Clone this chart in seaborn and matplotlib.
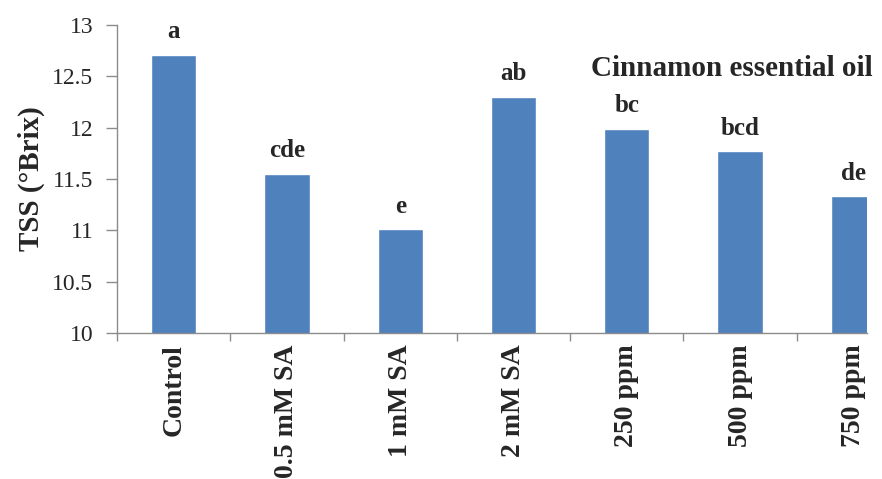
import matplotlib
matplotlib.use("Agg")
import matplotlib.pyplot as plt
import seaborn as sns
from matplotlib.ticker import FixedLocator

categories = ["Control", "0.5 mM SA", "1 mM SA", "2 mM SA", "250 ppm", "500 ppm", "750 ppm"]
tss_values = [12.71, 11.55, 11.01, 12.30, 11.99, 11.77, 11.33]
letters = ["a", "cde", "e", "ab", "bc", "bcd", "de"]
y_ticks = [10, 10.5, 11, 11.5, 12, 12.5, 13]
y_tick_labels = ["10", "10.5", "11", "11.5", "12", "12.5", "13"]

sns.set_theme(style="white")
plt.rcParams["font.family"] = ["Liberation Serif", "DejaVu Serif"]

bar_color = "#4F81BD"
axis_color = "#8C8C8C"

fig = plt.figure(figsize=(8.82, 4.79), dpi=100)
# plot area ends flush with the last bar, which is cut at the right edge
ax = fig.add_axes([0.1327, 0.3048, 0.8503, 0.643])

sns.barplot(x=categories, y=tss_values, color=bar_color, width=0.4,
            saturation=1, ax=ax, order=categories)

ax.set_xlim(-0.5, 6.12)
ax.set_ylim(10, 13)
ax.set_yticks(y_ticks)
ax.set_yticklabels(y_tick_labels, fontsize=17)

for spine in ["top", "right"]:
    ax.spines[spine].set_visible(False)
for spine in ["left", "bottom"]:
    ax.spines[spine].set_color(axis_color)
    ax.spines[spine].set_linewidth(1.0)

ax.tick_params(axis="y", which="major", direction="out", length=8,
               color=axis_color, width=1.0, pad=9, left=True)
ax.set_xticks(range(len(categories)))
ax.set_xticklabels(categories, rotation=90, fontsize=20, fontweight="bold")
ax.tick_params(axis="x", which="major", length=0, pad=8)
ax.xaxis.set_minor_locator(FixedLocator([i - 0.5 for i in range(len(categories))]))
ax.tick_params(axis="x", which="minor", direction="out", length=6,
               color=axis_color, width=1.0, bottom=True)

ax.set_xlabel("")
ax.set_ylabel("TSS (°Brix)", fontsize=21, fontweight="bold", labelpad=5)

for i, (v, lab) in enumerate(zip(tss_values, letters)):
    ax.annotate(lab, xy=(i, v), xytext=(0, 12), textcoords="offset points",
                ha="center", va="baseline", fontsize=18, fontweight="bold",
                annotation_clip=False)

fig.text(0.670, 0.842, "Cinnamon essential oil", fontsize=21,
         fontweight="bold", ha="left", va="baseline")

fig.savefig("out.png", dpi=100, facecolor="white")
